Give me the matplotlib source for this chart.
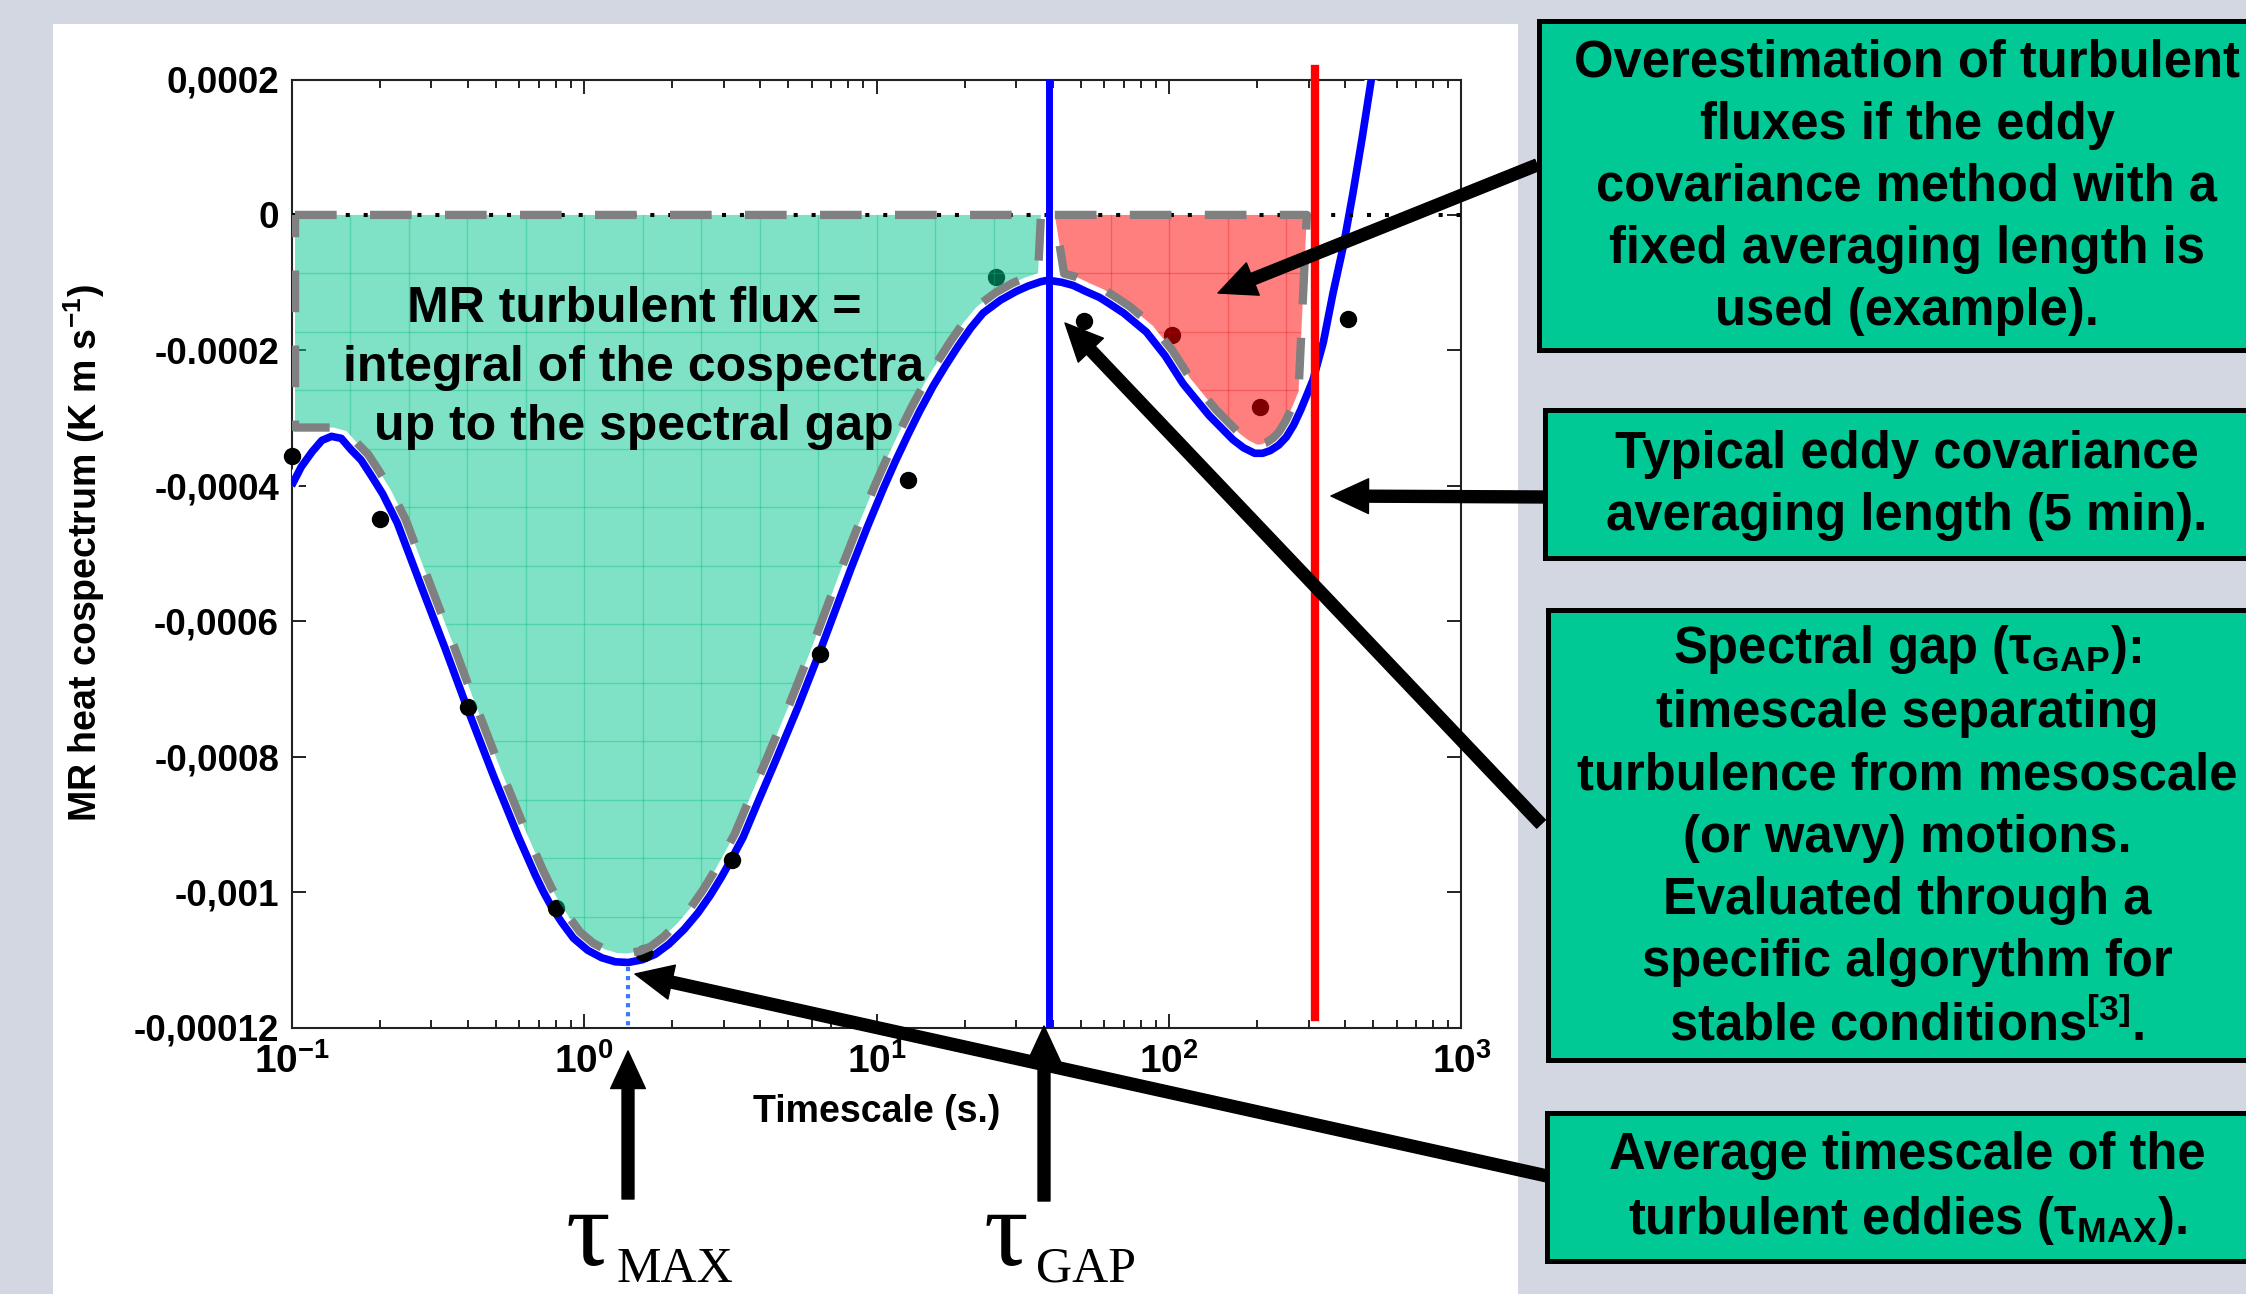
import numpy as np
import matplotlib
matplotlib.use("Agg")
import matplotlib.pyplot as plt
from matplotlib.patches import Rectangle, Polygon
from matplotlib.ticker import NullFormatter
import matplotlib.patheffects as pe

# --- values ------------------------------------------------------------
# MR cospectrum points (dyadic timescales)
timescale_pts = [0.1, 0.2, 0.4, 0.8, 1.6, 3.2, 6.4, 12.8, 25.6, 51.2, 102.4, 204.8, 409.6]
cospec_pts = [-0.000356, -0.000449, -0.000726, -0.001024, -0.001090, -0.000953, -0.000649,
              -0.000392, -0.000092, -0.000157, -0.000178, -0.000284, -0.000154]

# fitted curve (blue), read point by point
fit_t = [0.100, 0.108, 0.1175, 0.127, 0.137, 0.148, 0.160, 0.173, 0.188, 0.205, 0.230,
         0.282, 0.335, 0.397, 0.49, 0.596, 0.68, 0.725, 0.775, 0.84, 0.92, 1.03, 1.15,
         1.28, 1.416, 1.58, 1.75, 1.95, 2.2, 2.45, 2.7, 2.95, 3.195, 3.5, 3.95, 4.5, 5.4,
         6.4, 8.2, 9.3, 10.53, 11.6, 12.8, 14.0, 15.61, 17.2, 19.0, 21.0, 23.13, 26.5,
         30.0, 33.0, 36.5, 38.6, 43.0, 47.0, 52.0, 57.96, 63.0, 70.0, 83.7, 97.0, 111.6,
         137.0, 165.5, 180.0, 196.3, 209.0, 222.0, 237.0, 251.9, 267.0, 282.0, 296.0,
         310.5, 323.0, 337.0, 350.0, 363.5, 380.0, 395.0, 425.4, 458.0, 491.6]
fit_c = [-0.000400, -0.000372, -0.000350, -0.000333, -0.000327, -0.000330, -0.000347,
         -0.000362, -0.000386, -0.000412, -0.000455, -0.000556, -0.000640, -0.000726,
         -0.000828, -0.000918, -0.000974, -0.000999, -0.001022, -0.001045, -0.001068,
         -0.001086, -0.001097, -0.001103, -0.001104, -0.001100, -0.001092, -0.001077,
         -0.001055, -0.001031, -0.001005, -0.000978, -0.000951, -0.000919, -0.000865,
         -0.000808, -0.000726, -0.000645, -0.000521, -0.000461, -0.000405, -0.000364,
         -0.000325, -0.000291, -0.000253, -0.000223, -0.000194, -0.000167, -0.000145,
         -0.000126, -0.000113, -0.000105, -0.0000985, -0.0000964, -0.0000995, -0.000104,
         -0.000113, -0.000122, -0.000132, -0.000145, -0.000173, -0.000208, -0.000249,
         -0.000296, -0.000332, -0.000344, -0.000352, -0.000352, -0.000348, -0.000340,
         -0.000328, -0.000310, -0.000288, -0.000266, -0.000244, -0.000217, -0.000188,
         -0.000152, -0.000116, -0.000078, -0.000045, 0.0000319, 0.000115, 0.000200]

tau_max = 1.416      # minimum of the fit
tau_gap = 38.8       # spectral gap
tau_ec = 315         # 5 min eddy covariance averaging length

flux_span = (0.1028, 36.5)     # green area (turbulent flux)
over_span = (40.7, 296.0)      # red area (overestimation)

yticks = [0.0002, 0, -0.0002, -0.0004, -0.0006, -0.0008, -0.001, -0.0012]
ytick_labels = ['0,0002', '0', '-0.0002', '-0,0004', '-0,0006', '-0,0008', '-0,001', '-0,00012']
xticks = [0.1, 1, 10, 100, 1000]
xtick_labels = [r'$\mathbf{10^{-1}}$', r'$\mathbf{10^{0}}$', r'$\mathbf{10^{1}}$',
                r'$\mathbf{10^{2}}$', r'$\mathbf{10^{3}}$']

area_text = 'MR turbulent flux =\nintegral of the cospectra\nup to the spectral gap'
box_texts = [
    'Overestimation of turbulent\nfluxes if the eddy\ncovariance method with a\nfixed averaging length is\nused (example).',
    'Typical eddy covariance\naveraging length (5 min).',
    'Spectral gap (τ$_{\\mathbf{GAP}}$):\ntimescale separating\nturbulence from mesoscale\n(or wavy) motions.\nEvaluated through a\nspecific algorythm for\nstable conditions$^{\\mathbf{[3]}}$.',
    'Average timescale of the\nturbulent eddies (τ$_{\\mathbf{MAX}}$).',
]

# --- style ---------------------------------------------------------------
plt.rcParams['font.family'] = ['Liberation Sans', 'DejaVu Sans']
plt.rcParams['font.weight'] = 'bold'
plt.rcParams['mathtext.fontset'] = 'custom'
plt.rcParams['mathtext.rm'] = 'Liberation Sans:bold'
plt.rcParams['mathtext.bf'] = 'Liberation Sans:bold'
plt.rcParams['mathtext.it'] = 'Liberation Sans:bold:italic'
plt.rcParams['mathtext.sf'] = 'Liberation Sans:bold'
plt.rcParams['lines.scale_dashes'] = False

W, H = 2246, 1294
fig = plt.figure(figsize=(W / 100, H / 100), dpi=100, facecolor='#d2d7e2')
fig.add_artist(Rectangle((53 / W, 0), (1518 - 53) / W, (H - 24) / H, transform=fig.transFigure,
                         facecolor='white', edgecolor='none', zorder=-10))

ax = fig.add_axes([291.5 / W, 1 - 1027.5 / H, 1170 / W, 948 / H])
ax.set_xscale('log')
ax.set_xlim(0.1, 1000)
ax.set_ylim(-0.0012, 0.0002)
ax.set_xticks(xticks, xtick_labels, fontsize=28)
ax.xaxis.set_minor_formatter(NullFormatter())
ax.set_yticks(yticks, ytick_labels, fontsize=26.5, fontweight='bold')
ax.tick_params(which='both', direction='in', top=True, right=True, width=1.4, color='#222222')
ax.tick_params(which='major', length=10)
ax.tick_params(which='minor', length=6)
ax.tick_params(axis='x', pad=11)
ax.tick_params(axis='y', pad=9)
for s in ax.spines.values():
    s.set_linewidth(1.5)
    s.set_color('#222222')
ax.set_xlabel('Timescale (s.)', fontsize=27, fontweight='bold')
ax.xaxis.set_label_coords(0.5, -0.07)
ax.xaxis.label.set_va('top')
ax.set_ylabel('MR heat cospectrum (K m s$^{\\mathbf{-1}}$)', fontsize=27, fontweight='bold')
ax.yaxis.set_label_coords(-0.158, 0.5)

fx = np.array(fit_t)
fc = np.array(fit_c)


def lift(xs, ys, d):
    # shift a curve d pixels along its upward normal (screen space)
    p = ax.transData.transform(np.column_stack([xs, ys]))
    t = np.gradient(p, axis=0)
    n = np.column_stack([-t[:, 1], t[:, 0]])
    n /= np.hypot(n[:, 0], n[:, 1])[:, None]
    n[n[:, 1] < 0] *= -1
    return ax.transData.inverted().transform(p + d * n)


# green area
sel = (fx >= 0.137) & (fx <= flux_span[1])
low = lift(fx[sel], fc[sel], 9)
green_xy = np.vstack([[flux_span[0], 0], [flux_span[1], 0], low[::-1], [flux_span[0], low[0, 1]]])
# red area
sel = (fx >= 43) & (fx <= over_span[1])
low = lift(fx[sel], fc[sel], 9)
red_xy = np.vstack([[over_span[0], 0], [over_span[1], 0], low[::-1]])

# curve + points
ax.plot(fx, fc, color='#0000ff', lw=5.5, zorder=3, solid_capstyle='butt', solid_joinstyle='round',
        path_effects=[pe.Stroke(linewidth=9.5, foreground='white'), pe.Normal()])
ax.plot(timescale_pts, cospec_pts, 'o', color='black', ms=11.5, zorder=3.5, clip_on=False)

green = Polygon(green_xy, closed=True, facecolor=(0, 0.78, 0.56), alpha=0.5, edgecolor='none', zorder=4)
red = Polygon(red_xy, closed=True, facecolor=(1, 0, 0), alpha=0.5, edgecolor='none', zorder=4)
ax.add_patch(green)
ax.add_patch(red)

# grid texture inside the two areas
for patch, gcol in [(green, (0.0, 0.72, 0.48, 0.35)), (red, (0.9, 0.0, 0.0, 0.28))]:
    for k in range(1, 20):
        ln = ax.axvline(10 ** (-1 + 0.2 * k), color=gcol, lw=1, zorder=4.1)
        ln.set_clip_path(patch)
    for k in range(1, 14):
        ln = ax.axhline(-8.64e-5 * k, color=gcol, lw=1, zorder=4.1)
        ln.set_clip_path(patch)

# zero line
ax.plot([0.1, 1050], [0, 0], color='black', lw=2.9, ls=(0, (2.9, 10)),
        dash_capstyle='butt', zorder=4.5, clip_on=False)

# dashed outlines
for xy in (green_xy, red_xy):
    c = np.vstack([xy, xy[:1]])
    ax.plot(c[:, 0], c[:, 1], color='#808080', lw=6, ls=(0, (30, 24)),
            dash_capstyle='butt', zorder=5)

# vertical markers
ax.plot([tau_gap, tau_gap], [-0.0012, 0.0002], color='#0000ff', lw=5, zorder=6)
ax.plot([tau_ec, tau_ec], [-0.001184, 0.0002155], color='#ff0000', lw=6, zorder=6, clip_on=False)
ax.plot([tau_max, tau_max], [-0.00111, -0.0012], color='#3a78ff', lw=3, ls=(0, (3, 3.5)),
        dash_capstyle='butt', zorder=6)

# --- overlay in pixel coordinates -----------------------------------------
ov = fig.add_axes([0, 0, 1, 1], zorder=10)
ov.set_xlim(0, W)
ov.set_ylim(H, 0)
ov.axis('off')
ov.patch.set_visible(False)

ov.text(634, 368, area_text, ha='center', va='center', fontsize=36, linespacing=1.36,
        multialignment='center')

box_rows = [(20.7, 350), (409.6, 557.6), (609.7, 1060.4), (1112.6, 1260.5)]
box_left = [1539, 1545, 1548, 1547]
for (top, bot), left, txt in zip(box_rows, box_left, box_texts):
    ov.add_patch(Rectangle((left, top), 900, bot - top, facecolor='#00c996',
                           edgecolor='black', lw=3.6, zorder=1, clip_on=False))
    ov.text(1907, (top + bot) / 2 + 2, txt, ha='center', va='center', fontsize=36.5,
            linespacing=1.35, multialignment='center', zorder=2)

arrow = dict(facecolor='black', edgecolor='black', width=8.6, headwidth=25, headlength=27, shrink=0)
arrows = [((1537, 165), (1218, 293)),
          ((1545, 497), (1331, 496)),
          ((1541, 824), (1065, 323)),
          ((1547, 1176), (635, 974)),
          ((628, 1199), (628, 1051)),
          ((1044, 1201), (1044, 1026))]
for tail, tip in arrows:
    ov.annotate('', xy=tip, xytext=tail, arrowprops=arrow, zorder=3)

serif = ['Liberation Serif', 'DejaVu Serif']
ov.text(566, 1265, 'τ', family=serif, fontweight='normal', fontsize=80, va='baseline', ha='left')
ov.text(617, 1282, 'MAX', family=serif, fontweight='normal', fontsize=36, va='baseline', ha='left')
ov.text(984, 1265, 'τ', family=serif, fontweight='normal', fontsize=80, va='baseline', ha='left')
ov.text(1036, 1282, 'GAP', family=serif, fontweight='normal', fontsize=36, va='baseline', ha='left')

fig.savefig('out.png', dpi=100, facecolor=fig.get_facecolor())
